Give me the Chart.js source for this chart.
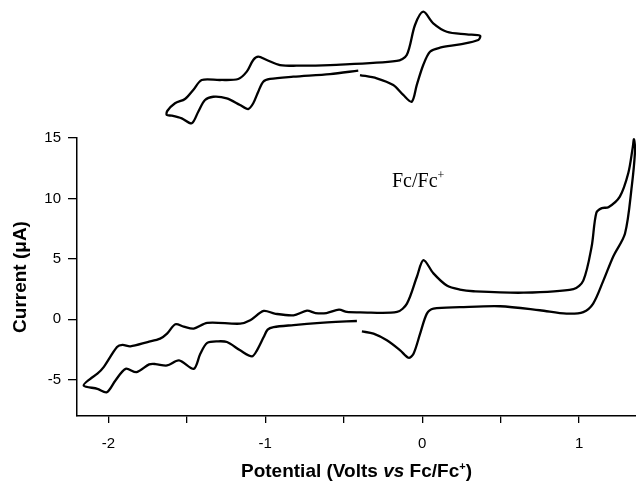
<!DOCTYPE html>
<html>
<head>
<meta charset="utf-8">
<script src="https://cdn.jsdelivr.net/npm/chart.js@4.4.1/dist/chart.umd.min.js"></script>
<style>
  body { margin: 0; background: #fff; }
  #wrap { position: relative; width: 636px; height: 487px; }
  #mainChart { position: absolute; left: 0; top: 0; }
  #insetChart { position: absolute; left: 150px; top: 0; }
  .xtitle {
    position: absolute; left: 77px; width: 559px; top: 461px;
    text-align: center; font: bold 19px "Liberation Sans", Arial, sans-serif; line-height: 19px;
  }
  .xtitle sup { font-size: 11px; vertical-align: 7px; line-height: 0; }
  .label {
    position: absolute; left: 392px; top: 170px;
    font: 20px "Liberation Serif", "Times New Roman", serif; line-height: 20px;
  }
  .label sup { font-size: 12px; vertical-align: 8px; line-height: 0; }
</style>
</head>
<body>
<div id="wrap">
  <canvas id="mainChart" width="636" height="487"></canvas>
  <canvas id="insetChart" width="350" height="135"></canvas>
  <div class="label">Fc/Fc<sup>+</sup></div>
  <div class="xtitle">Potential (Volts <i>vs</i> Fc/Fc<sup>+</sup>)</div>
</div>
<script>
// main voltammogram, in scan order (V vs Fc/Fc+, uA)
const potential = [
  -0.416, -0.55, -0.65, -0.82, -0.947, -0.985, -1.01, -1.053, -1.085, -1.16,
  -1.244, -1.30, -1.37, -1.414, -1.456, -1.55, -1.626, -1.70, -1.74, -1.82,
  -1.89, -1.955, -2.01, -2.07, -2.157,
  -2.115, -2.07, -2.03, -1.945, -1.91, -1.86, -1.75, -1.67, -1.626, -1.573,
  -1.52, -1.456, -1.37, -1.16, -1.096, -1.01, -0.94, -0.82, -0.734, -0.68,
  -0.61, -0.53, -0.48, -0.395, -0.16, -0.097, -0.034, 0.008, 0.072, 0.157,
  0.24, 0.327, 0.645, 0.964, 1.027, 1.08, 1.11, 1.145, 1.187, 1.26,
  1.314, 1.342, 1.35,
  1.357, 1.336, 1.293, 1.218, 1.155, 1.09, 1.027, 0.92, 0.75, 0.497,
  0.24, 0.072, 0.03, -0.013, -0.055, -0.087, -0.14, -0.225, -0.31, -0.384
];
const current = [
  -0.14, -0.22, -0.3, -0.48, -0.64, -0.85, -1.47, -2.57, -3.07, -2.57,
  -1.88, -1.82, -1.95, -2.85, -4.1, -3.4, -3.82, -3.7, -3.73, -4.37,
  -4.1, -5.06, -6.03, -5.75, -5.48,
  -4.92, -4.5, -3.96, -2.3, -2.12, -2.24, -1.88, -1.6, -1.19, -0.41,
  -0.6, -0.77, -0.3, -0.36, -0.08, 0.69, 0.47, 0.33, 0.72, 0.52,
  0.52, 0.8, 0.61, 0.58, 0.61, 1.3, 3.5, 4.9, 3.8, 2.8,
  2.46, 2.32, 2.2, 2.5, 3.2, 6.0, 8.8, 9.2, 9.27, 10.15,
  12.1, 14.2, 14.9,
  14.0, 11.0, 7.1, 5.2, 3.2, 1.3, 0.6, 0.47, 0.75, 1.08,
  1.0, 0.89, 0.47, -1.19, -2.85, -3.18, -2.57, -1.74, -1.19, -1.0
];

// inset voltammogram (no axes drawn; relative units)
const insetPotential = [
  -0.334, -0.56, -0.854, -1.04, -1.094, -1.134, -1.174, -1.214, -1.28, -1.386,
  -1.494, -1.56, -1.614, -1.666, -1.746, -1.826, -1.866,
  -1.862, -1.8, -1.72, -1.654, -1.586, -1.44, -1.294, -1.226, -1.174,
  -1.134, -1.066, -0.96, -0.8, -0.56, -0.026, 0.054, 0.12, 0.186, 0.266,
  0.374, 0.534, 0.64,
  0.626, 0.48, 0.32, 0.24, 0.186, 0.134, 0.094, 0.026, -0.054, -0.186, -0.32
];
const insetCurrent = [
  -0.28, -0.58, -0.82, -1.02, -1.26, -2.15, -3.18, -3.69, -3.33, -2.74,
  -2.6, -2.89, -3.93, -4.96, -4.52, -4.28, -4.22,
  -3.87, -3.18, -2.8, -2.0, -1.11, -1.11, -1.02, -0.37, 0.67,
  0.96, 0.67, 0.22, 0.16, 0.22, 0.58, 1.11, 3.78, 4.96, 3.93,
  3.18, 2.95, 2.83,
  2.44, 2.06, 1.76, 1.4, 0.22, -1.56, -3.04, -2.44, -1.56, -0.96, -0.67
];

const xTickValues = [-2, -1.5, -1, -0.5, 0, 0.5, 1];
const yTickValues = [-5, 0, 5, 10, 15];

const tickFont = { family: 'Liberation Sans, Arial, sans-serif', size: 15 };

new Chart(document.getElementById('mainChart'), {
  type: 'scatter',
  data: {
    datasets: [{
      data: potential.map((v, i) => ({ x: v, y: current[i] })),
      showLine: true,
      borderColor: '#000',
      borderWidth: 2.3,
      pointRadius: 0,
      tension: 0.3,
      clip: false
    }]
  },
  options: {
    responsive: false,
    animation: false,
    layout: { padding: { top: 138, right: 0, left: 0, bottom: 0 } },
    plugins: { legend: { display: false }, tooltip: { enabled: false } },
    scales: {
      x: {
        type: 'linear',
        min: -2.2,
        max: 1.363,
        afterBuildTicks: scale => { scale.ticks = xTickValues.map(v => ({ value: v })); },
        afterFit: scale => { scale.height = 71; },
        ticks: {
          color: '#000',
          font: tickFont,
          padding: 12,
          maxRotation: 0,
          callback: v => Number.isInteger(v) ? String(v) : ''
        },
        grid: { drawOnChartArea: false, color: '#000', tickLength: 7, lineWidth: 1.3 },
        border: { color: '#000', width: 1.5 }
      },
      y: {
        min: -8,
        max: 15,
        afterBuildTicks: scale => { scale.ticks = yTickValues.map(v => ({ value: v })); },
        afterFit: scale => { scale.width = 77; },
        ticks: { color: '#000', font: tickFont, padding: 7 },
        grid: { drawOnChartArea: false, color: '#000', tickLength: 9, lineWidth: 1.3 },
        border: { color: '#000', width: 1.5 },
        title: {
          display: true,
          text: 'Current (\u03bcA)',
          color: '#000',
          font: { family: 'Liberation Sans, Arial, sans-serif', size: 19, weight: 'bold' },
          padding: { top: 9, bottom: 0 }
        }
      }
    }
  }
});

new Chart(document.getElementById('insetChart'), {
  type: 'scatter',
  data: {
    datasets: [{
      data: insetPotential.map((v, i) => ({ x: v, y: insetCurrent[i] })),
      showLine: true,
      borderColor: '#000',
      borderWidth: 2.3,
      pointRadius: 0,
      tension: 0.3,
      clip: false
    }]
  },
  options: {
    responsive: false,
    animation: false,
    layout: { padding: 0 },
    plugins: { legend: { display: false }, tooltip: { enabled: false } },
    scales: {
      x: { type: 'linear', display: false, min: -2.0, max: 0.8 },
      y: { display: false, min: -6, max: 6 }
    }
  }
});
</script>
</body>
</html>
